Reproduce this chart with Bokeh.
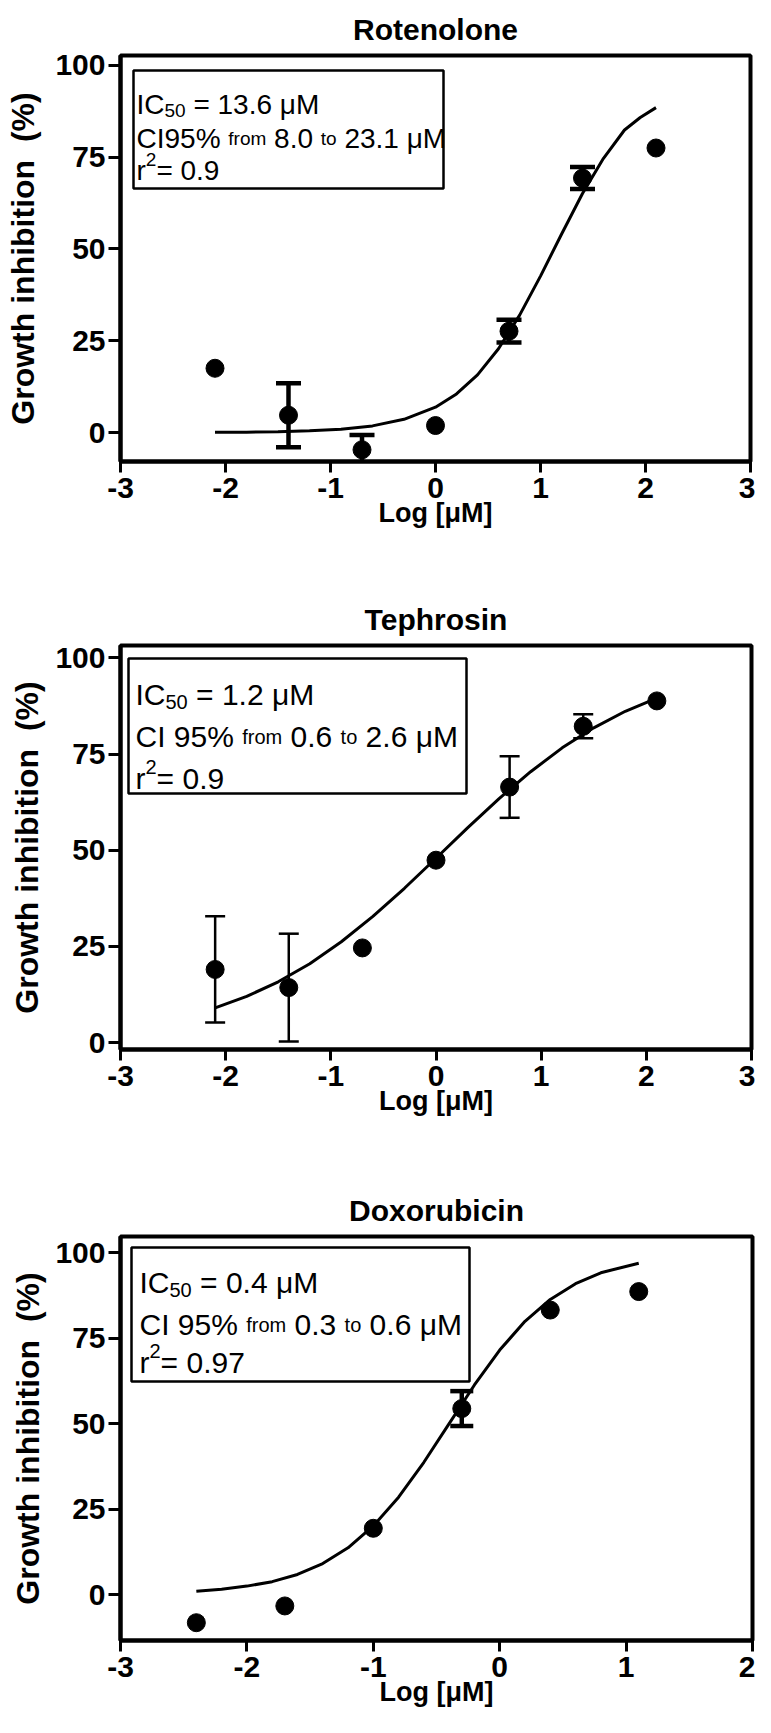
from bokeh.plotting import figure
from bokeh.models import ColumnDataSource, Whisker, TeeHead, Range1d, FixedTicker
from bokeh.layouts import column
from bokeh.embed import file_html
from bokeh.resources import INLINE
from bokeh.core.properties import value

FONT = "Liberation Sans"

# ---------------- data ----------------
x_ticks_a = [-3, -2, -1, 0, 1, 2, 3]
x_ticks_b = [-3, -2, -1, 0, 1, 2]
y_ticks = [0, 25, 50, 75, 100]

# Rotenolone
rot_x = [-2.1, -1.4, -0.7, 0.0, 0.7, 1.4, 2.1]
rot_y = [17.5, 4.7, -4.7, 1.9, 27.6, 69.3, 77.5]
rot_err = [0.0, 8.7, 4.0, 0.0, 3.1, 3.0, 0.0]
rot_fit_x = [-2.1, -1.8, -1.5, -1.2, -0.9, -0.6, -0.3, 0.0, 0.2, 0.4, 0.6, 0.8,
             1.0, 1.2, 1.4, 1.6, 1.8, 1.95, 2.1]
rot_fit_y = [0.1, 0.1, 0.2, 0.5, 0.9, 1.8, 3.6, 6.9, 10.5, 15.7, 22.8, 31.9,
             42.6, 54.0, 65.1, 74.7, 82.4, 85.8, 88.5]

# Tephrosin
tep_x = [-2.1, -1.4, -0.7, 0.0, 0.7, 1.4, 2.1]
tep_y = [19.0, 14.3, 24.6, 47.4, 66.4, 82.2, 88.8]
tep_err = [13.8, 14.0, 0.0, 0.0, 8.0, 3.1, 0.0]
tep_fit_x = [-2.1, -1.8, -1.5, -1.2, -0.9, -0.6, -0.3, 0.0, 0.3, 0.6, 0.9,
             1.2, 1.5, 1.8, 2.1]
tep_fit_y = [9.0, 12.0, 15.8, 20.5, 26.2, 32.8, 40.1, 47.9, 55.8, 63.4, 70.4,
             76.6, 81.8, 86.1, 89.5]

# Doxorubicin
dox_x = [-2.4, -1.7, -1.0, -0.3, 0.4, 1.1]
dox_y = [-8.2, -3.3, 19.4, 54.4, 83.2, 88.6]
dox_err = [0.0, 0.0, 0.0, 5.1, 0.0, 0.0]
dox_fit_x = [-2.4, -2.2, -2.0, -1.8, -1.6, -1.4, -1.2, -1.0, -0.8, -0.6, -0.4,
             -0.2, 0.0, 0.2, 0.4, 0.6, 0.8, 1.1]
dox_fit_y = [1.0, 1.6, 2.5, 3.8, 5.9, 9.1, 13.7, 20.1, 28.5, 38.7, 50.0,
             61.3, 71.5, 79.9, 86.3, 90.9, 94.1, 96.9]

titles = ["Rotenolone", "Tephrosin", "Doxorubicin"]
x_label = "Log [\u03bcM]"
y_label = "Growth inhibition\u00a0 (%)"

# annotation text: (text, kind, space_before) per line
# kind n = normal, s = small, sub = subscript, sup = superscript
box_lines = [
    [[("IC", "n", 0), ("50", "sub", 0), ("= 13.6 \u03bcM", "n", 1)],
     [("CI95%", "n", 0), ("from", "s", 1), ("8.0", "n", 1), ("to", "s", 1), ("23.1 \u03bcM", "n", 1)],
     [("r", "n", 0), ("2", "sup", 0), ("= 0.9", "n", 0)]],
    [[("IC", "n", 0), ("50", "sub", 0), ("= 1.2 \u03bcM", "n", 1)],
     [("CI 95%", "n", 0), ("from", "s", 1), ("0.6", "n", 1), ("to", "s", 1), ("2.6 \u03bcM", "n", 1)],
     [("r", "n", 0), ("2", "sup", 0), ("= 0.9", "n", 0)]],
    [[("IC", "n", 0), ("50", "sub", 0), ("= 0.4 \u03bcM", "n", 1)],
     [("CI 95%", "n", 0), ("from", "s", 1), ("0.3", "n", 1), ("to", "s", 1), ("0.6 \u03bcM", "n", 1)],
     [("r", "n", 0), ("2", "sup", 0), ("= 0.97", "n", 0)]],
]

# ---------------- layout / style (not data) ----------------
ADV = {" ": 278, "I": 278, "C": 722, "0": 556, "1": 556, "2": 556, "3": 556,
       "4": 556, "5": 556, "6": 556, "7": 556, "8": 556, "9": 556, ".": 278,
       "=": 584, "\u03bc": 576, "M": 833, "%": 889, "f": 278, "r": 333,
       "o": 556, "m": 833, "t": 278}


def text_w(s, size):
    return sum(ADV.get(c, 556) for c in s) * size / 1000.0


panels = [
    dict(x=rot_x, y=rot_y, err=rot_err, fx=rot_fit_x, fy=rot_fit_y,
         xr=(-3, 3), yr=(-7.9, 102.7), xt=x_ticks_a,
         fw=630, fh=406, bl=120, bt=55, br=5, bb=104,
         font=28, box=(13, 15, 323, 133), tx=16, base=(49, 83, 115),
         lw_err=4.5, cap=25, ylab_std=11),
    dict(x=tep_x, y=tep_y, err=tep_err, fx=tep_fit_x, fy=tep_fit_y,
         xr=(-3, 3), yr=(-1.8, 103.2), xt=x_ticks_a,
         fw=631, fh=404, bl=116, bt=80, br=8, bb=103,
         font=30, box=(8, 13, 346, 148), tx=15, base=(49, 91, 133),
         lw_err=2.5, cap=20, ylab_std=7),
    dict(x=dox_x, y=dox_y, err=dox_err, fx=dox_fit_x, fy=dox_fit_y,
         xr=(-3, 2), yr=(-13.4, 104.7), xt=x_ticks_b,
         fw=632, fh=404, bl=115, bt=84, br=8, bb=80,
         font=30, box=(11, 11, 349, 145), tx=19, base=(46, 88, 126),
         lw_err=4.5, cap=23, ylab_std=6),
]

figs = []
for i, P in enumerate(panels):
    p = figure(frame_width=P["fw"], frame_height=P["fh"],
               min_border_left=P["bl"], min_border_top=P["bt"],
               min_border_right=P["br"], min_border_bottom=P["bb"],
               x_range=Range1d(*P["xr"]), y_range=Range1d(*P["yr"]),
               output_backend="svg", toolbar_location=None,
               background_fill_color="white", border_fill_color="white")
    p.title.text = titles[i]
    p.title.align = "center"
    p.title.text_font = FONT
    p.title.text_font_size = "30px"
    p.title.text_font_style = "bold"
    p.title.text_color = "black"
    p.title.standoff = 20

    p.grid.visible = False
    p.outline_line_color = "black"
    p.outline_line_width = 4
    p.outline_line_alpha = 1

    for ax in (p.xaxis[0], p.yaxis[0]):
        ax.axis_line_width = 4
        ax.major_tick_line_width = 3
        ax.major_tick_out = 11
        ax.major_tick_in = 0
        ax.minor_tick_line_color = None
        ax.major_label_text_font = FONT
        ax.major_label_text_font_style = "bold"
        ax.major_label_text_font_size = "30px"
        ax.major_label_text_color = "black"
        ax.axis_label_text_font = FONT
        ax.axis_label_text_font_style = "bold"
        ax.axis_label_text_color = "black"
    p.xaxis.ticker = FixedTicker(ticks=P["xt"])
    p.xaxis.major_label_overrides = {t: str(t) for t in P["xt"]}
    p.yaxis.ticker = FixedTicker(ticks=y_ticks)
    p.xaxis.axis_label = x_label
    p.xaxis.axis_label_text_font_size = "27px"
    p.xaxis.major_label_standoff = 5
    p.xaxis.axis_label_standoff = -3
    p.yaxis.axis_label = y_label
    p.yaxis.axis_label_text_font_size = "32px"
    p.yaxis.major_label_standoff = 3
    p.yaxis.major_tick_out = 12
    p.yaxis.axis_label_standoff = P["ylab_std"]

    x0, x1 = P["xr"]
    y0, y1 = P["yr"]

    # fitted curve
    p.line(P["fx"], P["fy"], line_color="black", line_width=3)
    # data points
    src = ColumnDataSource(dict(x=P["x"], y=P["y"]))
    p.scatter("x", "y", source=src, size=18, marker="circle",
              fill_color="black", line_color="black")
    # error bars
    ex = [a for a, e in zip(P["x"], P["err"]) if e > 0]
    ey = [b for b, e in zip(P["y"], P["err"]) if e > 0]
    ee = [e for e in P["err"] if e > 0]
    esrc = ColumnDataSource(dict(base=ex,
                                 upper=[b + e for b, e in zip(ey, ee)],
                                 lower=[b - e for b, e in zip(ey, ee)]))
    w = Whisker(source=esrc, base="base", upper="upper", lower="lower",
                line_width=P["lw_err"], line_color="black",
                upper_head=TeeHead(size=P["cap"], line_width=P["lw_err"], line_color="black"),
                lower_head=TeeHead(size=P["cap"], line_width=P["lw_err"], line_color="black"))
    p.add_layout(w)

    # annotation box (pixel offsets from the frame's top-left corner)
    sx = (x1 - x0) / P["fw"]
    sy = (y1 - y0) / P["fh"]
    bl_, bt_, br_, bb_ = P["box"]
    p.quad(left=[x0 + bl_ * sx], right=[x0 + br_ * sx],
           top=[y1 - bt_ * sy], bottom=[y1 - bb_ * sy],
           fill_color="white", line_color="black", line_width=2.5)

    f = P["font"]
    small = round(f * 0.68)
    rows = dict(x=[], y=[], text=[], dx=[], dy=[], size=[])
    for li, line in enumerate(box_lines[i]):
        cx = P["tx"]
        for txt, kind, sp in line:
            if kind == "n":
                sz, off = f, 0
            elif kind == "s":
                sz, off = small, 0
            elif kind == "sub":
                sz, off = small, round(f * 0.22)
            else:
                sz, off = small, -round(f * 0.4)
            cx += sp * text_w(" ", f)
            rows["x"].append(x0)
            rows["y"].append(y1)
            rows["text"].append(txt)
            rows["dx"].append(cx)
            rows["dy"].append(P["base"][li] + off)
            rows["size"].append("%dpx" % sz)
            cx += text_w(txt, sz)
    tsrc = ColumnDataSource(rows)
    p.text("x", "y", text="text", source=tsrc, x_offset="dx", y_offset="dy",
           text_font_size="size", text_font=value(FONT),
           text_baseline="alphabetic", text_align="left", text_color="black")
    figs.append(p)

layout = column(*figs, spacing=0)
open("out.html", "w").write(file_html(layout, INLINE))
